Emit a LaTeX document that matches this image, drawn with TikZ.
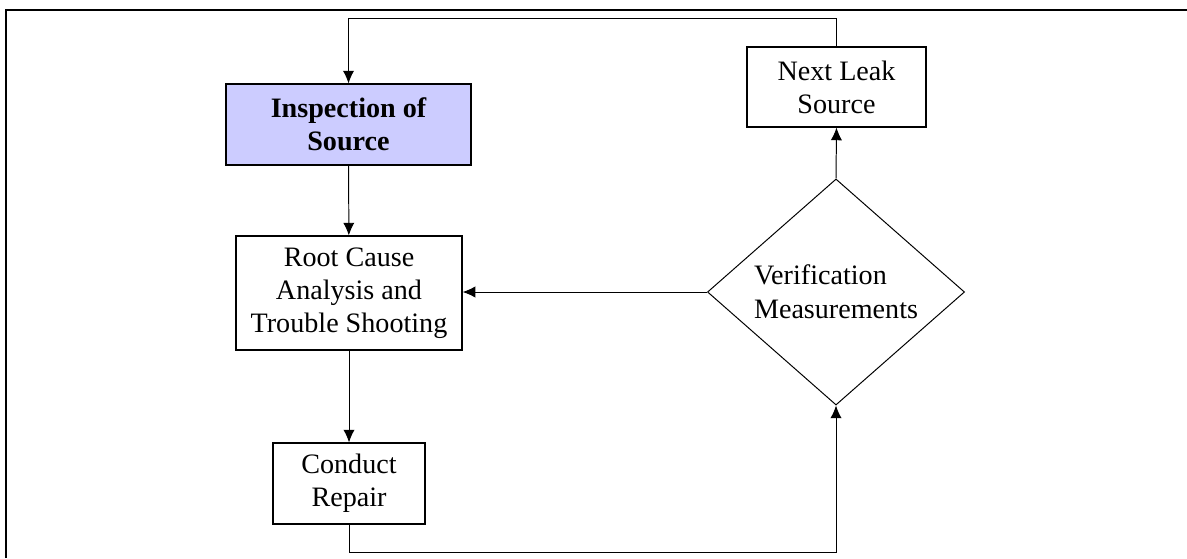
\documentclass[tikz,border=0pt]{standalone}
\usepackage{fontspec}
\setmainfont{Liberation Serif}
\usetikzlibrary{shapes.geometric,arrows.meta}

\tikzstyle{pt} = [coordinate]
\tikzstyle{block} = [draw=black, line width=0.8pt, rectangle, align=center, inner sep=0, font=\fontsize{20}{23.5}\selectfont]
\tikzstyle{decision} = [draw=black, line width=0.7pt, diamond, align=left, inner sep=0, minimum width=6.425cm, minimum height=5.65cm, font=\fontsize{20}{24.5}\selectfont]
\tikzstyle{flow} = [>={Latex[length=9pt,width=8pt]}, draw=black, line width=0.7pt]
\tikzstyle{frame} = [draw=black, line width=1.5pt]

\begin{document}
\begin{tikzpicture}[x=0.025cm, y=-0.025cm]
  \useasboundingbox (0,0) rectangle (1187,558);
  \draw[frame] (6,558) -- (6,10) -- (1187,10);

%Nodes
	\node[block, fill={rgb,255:red,204;green,204;blue,255}, minimum width=6.125cm, minimum height=2.025cm, font=\fontsize{20}{23.5}\selectfont\bfseries] (insp) at (348.5,124.5) {Inspection of\\Source};
	\node[block, minimum width=5.65cm, minimum height=2.85cm] (root) at (349,293) {Root Cause\\Analysis and\\Trouble Shooting};
	\node[block, minimum width=3.8cm, minimum height=2.025cm] (cond) at (349,483.5) {Conduct\\Repair};
	\node[block, minimum width=4.475cm, minimum height=2cm] (next) at (836.5,87) {Next Leak\\Source};
	\node[decision] (verif) at (836,292) {Verification\\Measurements};

	\node[pt] (c1) at (349,552) {};
	\node[pt] (c2) at (836,552) {};
	\node[pt] (c3) at (836.5,18) {};
	\node[pt] (c4) at (348.5,18) {};

%Connections
	\draw[flow,->] (insp) -- (root);
	\draw[flow,->] (root) -- (cond);
	\draw[flow,->] (cond.south) -- (c1) -- (c2) -- (verif.south);
	\draw[flow,->] (verif.west) -- (verif.west -| root.east);
	\draw[flow,->] (verif.north) -- (next.south);
	\draw[flow,->] (next.north) -- (c3) -- (c4) -- (insp.north);

\end{tikzpicture}
\end{document}
